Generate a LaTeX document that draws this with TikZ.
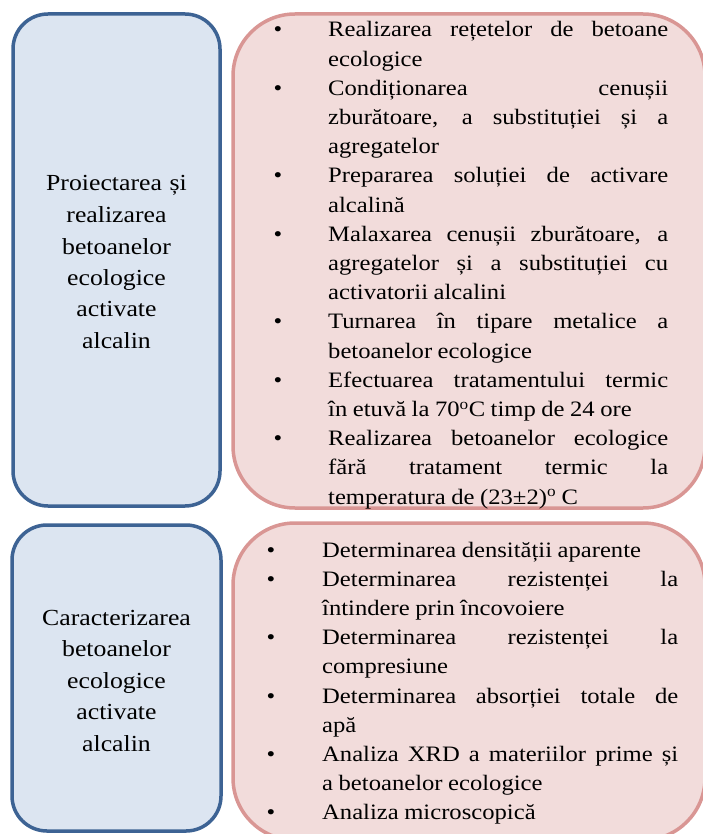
\documentclass[tikz,border=0pt]{standalone}
\usepackage{fontspec}
\setmainfont{Liberation Serif}[FakeStretch=1.12]
\definecolor{bluedraw}{HTML}{3D6394}
\definecolor{bluefill}{HTML}{DCE5F1}
\definecolor{pinkdraw}{HTML}{D99694}
\definecolor{pinkfill}{HTML}{F2DCDB}
\newlength\bulind
\newcommand\bitm[1]{\hangindent=\bulind\hangafter=1\noindent\makebox[\bulind][l]{•}#1\par}
\newcommand\listsetup[1]{\setlength\bulind{#1}\spaceskip=0.25em plus 3em minus 0.08em\relax\xspaceskip=\spaceskip\pretolerance=10000\tolerance=10000\hyphenpenalty=10000\parindent=0pt\parskip=0pt}
\begin{document}
\begin{tikzpicture}[x=1pt,y=-1pt,
  bluebox/.style={draw=bluedraw, fill=bluefill, line width=3.5pt, rounded corners=35pt, inner sep=0pt},
  pinkbox/.style={draw=pinkdraw, fill=pinkfill, line width=3.5pt, rounded corners=62pt, inner sep=0pt},
  bluetext/.style={anchor=base, text width=200pt, align=center, inner sep=0pt, font=\fontsize{23}{31.5}\selectfont},
  listtext/.style={anchor=base west, inner sep=0pt, align=justify, font=\fontsize{22}{29.2}\selectfont},
]
\useasboundingbox (0,0) rectangle (702,834);
\node[bluebox, minimum width=207pt, minimum height=492pt] (b1) at (116.5,260) {};
\node[pinkbox, minimum width=472pt, minimum height=494pt] (p1) at (469,261) {};
\node[bluebox, minimum width=209pt, minimum height=306pt] (b2) at (116.5,678) {};
\node[pinkbox, minimum width=472pt, minimum height=317pt] (p2) at (469,681.5) {};

\node[bluetext] (t1) at (116.5,191) {Proiectarea și\\ realizarea\\ betoanelor\\ ecologice\\ activate\\ alcalin};
\node[bluetext] (t2) at (116.5,625) {Caracterizarea\\ betoanelor\\ ecologice\\ activate\\ alcalin};

\node[listtext, text width=394.5pt] (l1) at (273.5,37) {\listsetup{54.5pt}%
\bitm{Realizarea rețetelor de betoane\linebreak ecologice}%
\bitm{Condiționarea cenușii\linebreak zburătoare, a substituției și a\linebreak agregatelor}%
\bitm{Prepararea soluției de activare\linebreak alcalină}%
\bitm{Malaxarea cenușii zburătoare, a\linebreak agregatelor și a substituției cu\linebreak activatorii alcalini}%
\bitm{Turnarea în tipare metalice a\linebreak betoanelor ecologice}%
\bitm{Efectuarea tratamentului termic\linebreak în etuvă la 70\textsuperscript{o}C timp de 24 ore}%
\bitm{Realizarea betoanelor ecologice\linebreak fără tratament termic la\linebreak temperatura de (23±2)\textsuperscript{o} C}};

\node[listtext, text width=411.5pt] (l2) at (266.5,557) {\listsetup{55.5pt}%
\bitm{Determinarea densității aparente}%
\bitm{Determinarea rezistenței la\linebreak întindere prin încovoiere}%
\bitm{Determinarea rezistenței la\linebreak compresiune}%
\bitm{Determinarea absorției totale de\linebreak apă}%
\bitm{Analiza XRD a materiilor prime și\linebreak a betoanelor ecologice}%
\bitm{Analiza microscopică}};
\end{tikzpicture}
\end{document}
